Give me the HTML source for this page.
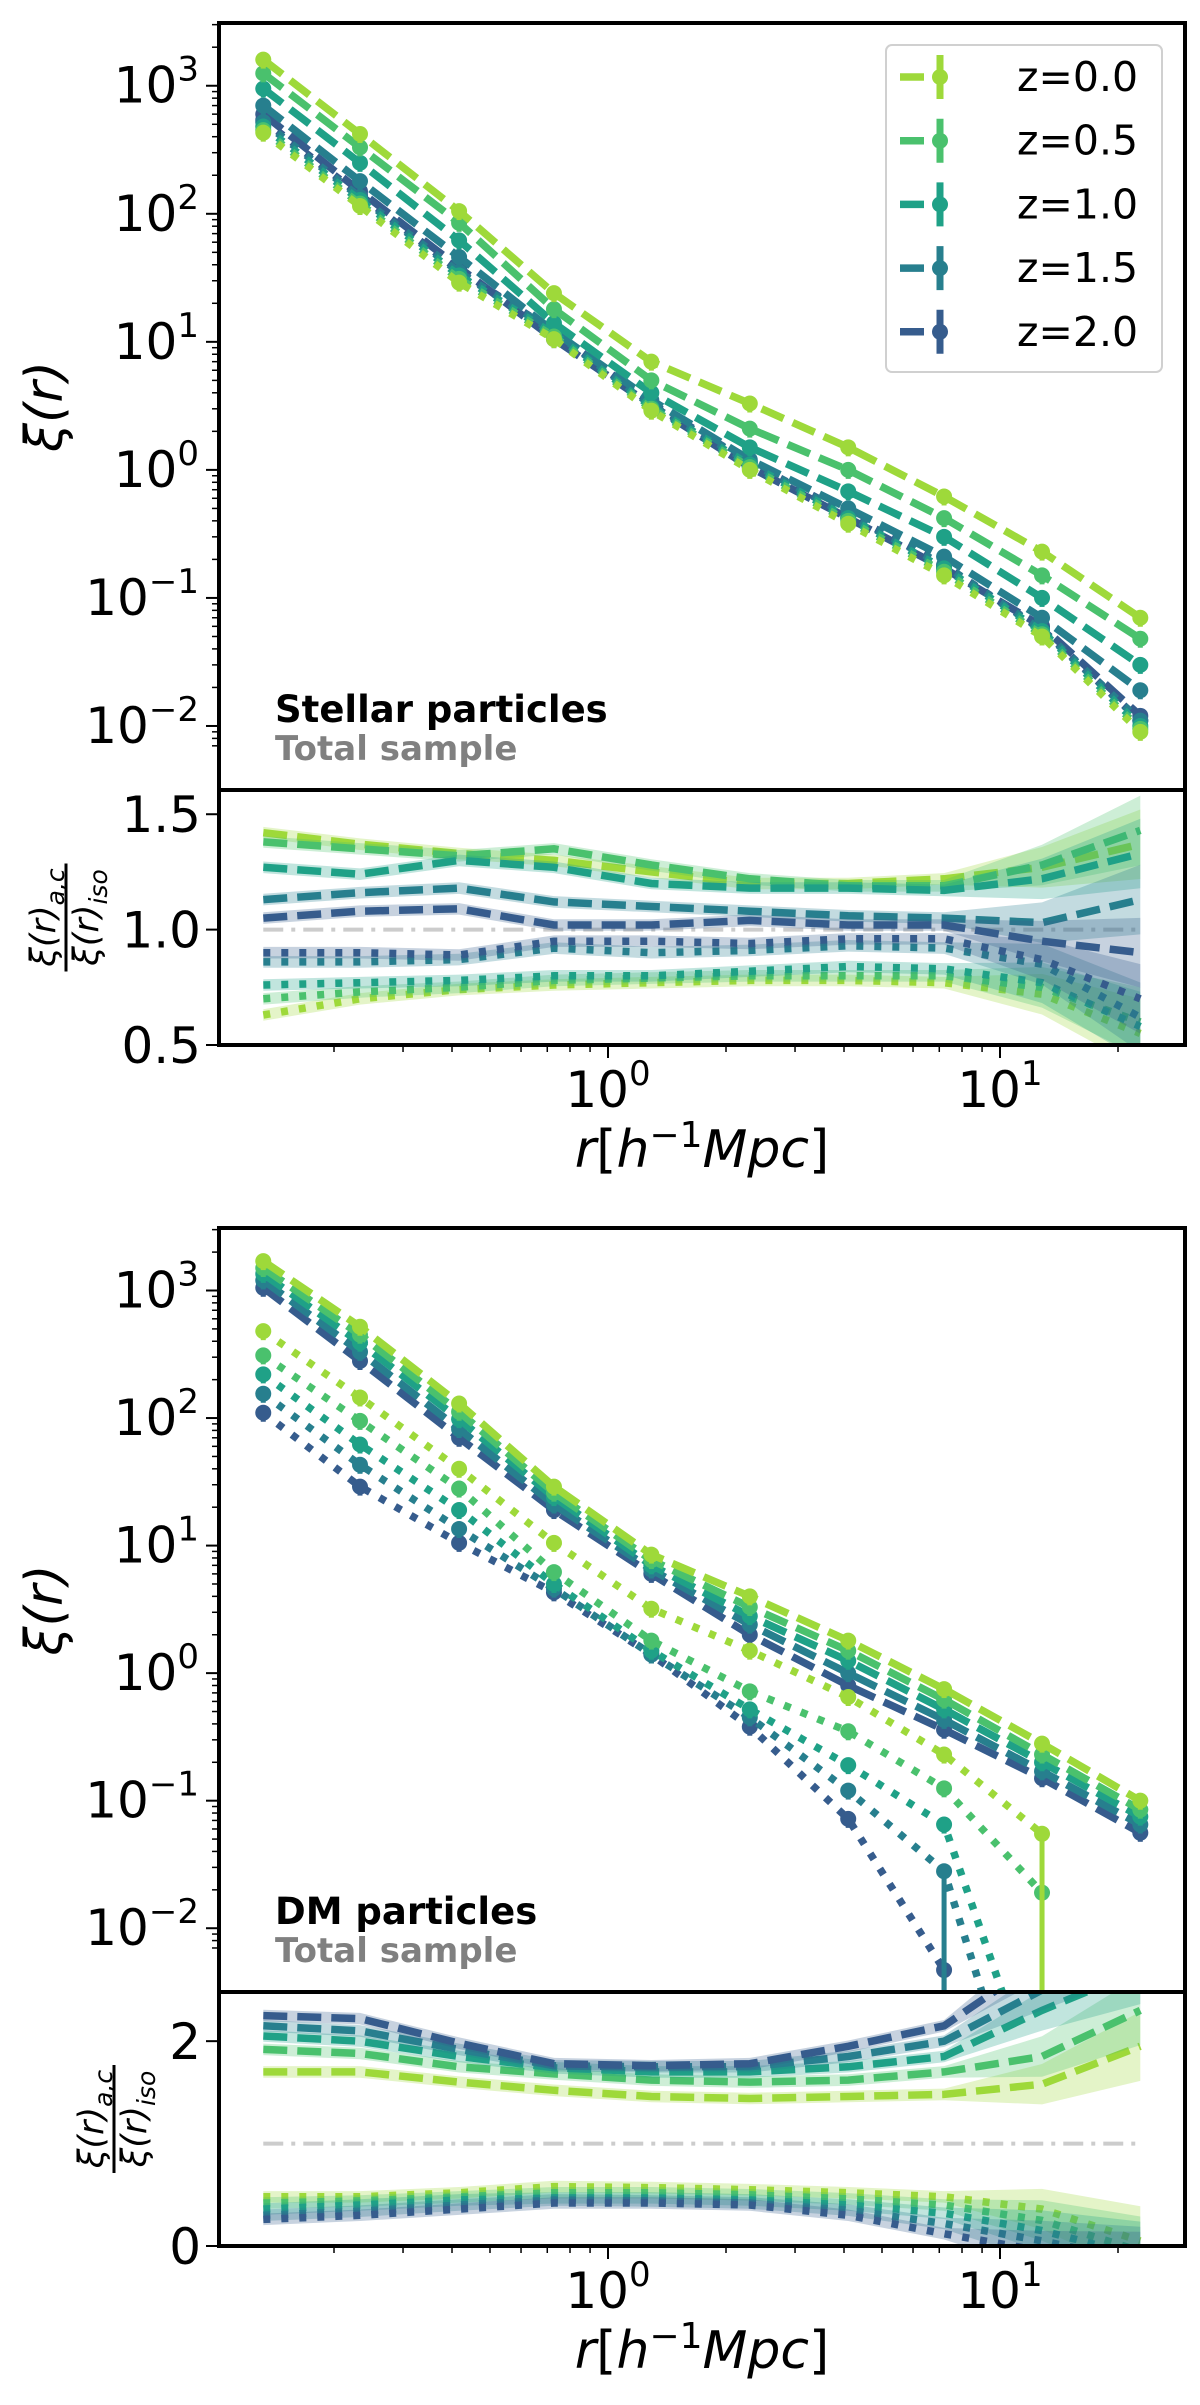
<!DOCTYPE html>
<html><head><meta charset="utf-8"><style>
html,body{margin:0;padding:0;background:#fff;}
svg{display:block;font-family:"DejaVu Sans","Liberation Sans",sans-serif;}
</style></head><body>
<svg id="fig" width="1200" height="2405" viewBox="0 0 1200 2405" xmlns="http://www.w3.org/2000/svg"></svg>
<script>
// ---------- data ----------
const rVals = [0.132,0.233,0.417,0.728,1.29,2.3,4.1,7.2,12.8,22.8];
const zLabels = ["z=0.0","z=0.5","z=1.0","z=1.5","z=2.0"];
const colors = ["#9ed93a","#4ac16d","#1fa187","#277f8e","#365c8d"];
// Stellar particles xi(r): dashed (a) and dotted (c)
const starA0=[1600,420,105,24,7.0,3.3,1.5,0.62,0.23,0.07];
const starA1=[1250,330,85,18,5.0,2.1,1.0,0.42,0.15,0.048];
const starA2=[950,250,62,14,4.0,1.5,0.68,0.30,0.10,0.030];
const starA3=[700,180,46,12,3.5,1.2,0.50,0.21,0.07,0.019];
const starA4=[600,150,38,10.5,3.2,1.05,0.42,0.17,0.06,0.012];
const starC0=[430,115,29,10.5,2.9,1.0,0.38,0.15,0.050,0.009];
const starC1=[450,120,31,11,3.0,1.05,0.40,0.16,0.052,0.0095];
const starC2=[480,128,33,11.5,3.1,1.1,0.42,0.17,0.055,0.010];
const starC3=[520,135,35,12,3.2,1.15,0.44,0.18,0.056,0.011];
const starC4=[540,140,36,12,3.3,1.15,0.45,0.18,0.057,0.011];
// Stellar ratio panel
const starRA0=[1.42,1.37,1.33,1.30,1.25,1.20,1.20,1.22,1.27,1.37];
const starRA1=[1.38,1.35,1.32,1.35,1.28,1.22,1.19,1.19,1.28,1.43];
const starRA2=[1.27,1.24,1.30,1.27,1.20,1.18,1.18,1.17,1.22,1.33];
const starRA3=[1.13,1.16,1.18,1.12,1.10,1.08,1.06,1.05,1.03,1.13];
const starRA4=[1.05,1.08,1.09,1.02,1.02,1.04,1.02,1.02,0.95,0.90];
const starRC0=[0.63,0.70,0.74,0.76,0.77,0.78,0.78,0.77,0.72,0.55];
const starRC1=[0.70,0.73,0.75,0.78,0.79,0.80,0.80,0.80,0.75,0.60];
const starRC2=[0.76,0.77,0.78,0.80,0.80,0.82,0.84,0.83,0.77,0.58];
const starRC3=[0.86,0.86,0.87,0.92,0.90,0.91,0.93,0.92,0.85,0.62];
const starRC4=[0.90,0.90,0.89,0.95,0.95,0.94,0.96,0.96,0.87,0.70];
// DM particles xi(r) (null = not plotted / negative)
const dmA0=[1700,520,130,29,8.5,4.0,1.8,0.75,0.28,0.10];
const dmA1=[1500,450,112,26,7.7,3.3,1.5,0.62,0.23,0.085];
const dmA2=[1350,390,98,24,7.0,2.8,1.25,0.52,0.20,0.075];
const dmA3=[1200,330,82,21,6.5,2.4,1.0,0.43,0.17,0.065];
const dmA4=[1050,280,70,19,6.0,2.0,0.80,0.36,0.15,0.056];
const dmC0=[480,145,40,10.5,3.2,1.5,0.65,0.23,0.055,null];
const dmC1=[310,95,28,6.2,1.8,0.72,0.35,0.125,0.019,null];
const dmC2=[220,62,19,5.0,1.5,0.52,0.19,0.065,0.0004,null];
const dmC3=[155,43,13.5,4.6,1.4,0.45,0.12,0.028,0.0001,null];
const dmC4=[110,29,10.5,4.3,1.4,0.38,0.072,0.0047,null,null];
// DM points whose lower error bar runs off the axis: [series, index]
const dmLongErr=[[0,8],[1,8],[3,7],[4,7]];
// DM ratio panel
const dmRA0=[1.70,1.70,1.60,1.52,1.46,1.44,1.46,1.48,1.58,1.95];
const dmRA1=[1.92,1.88,1.75,1.68,1.62,1.60,1.62,1.70,1.85,2.30];
const dmRA2=[2.05,2.00,1.85,1.74,1.70,1.70,1.75,1.85,2.30,2.70];
const dmRA3=[2.15,2.10,1.92,1.76,1.75,1.75,1.85,2.00,2.50,3.00];
const dmRA4=[2.25,2.22,1.98,1.78,1.76,1.78,1.95,2.15,2.80,3.50];
const dmRC0=[0.48,0.48,0.52,0.58,0.57,0.55,0.52,0.48,0.36,0.05];
const dmRC1=[0.42,0.44,0.48,0.52,0.52,0.50,0.46,0.40,0.25,-0.05];
const dmRC2=[0.36,0.40,0.45,0.47,0.47,0.45,0.40,0.32,0.15,-0.10];
const dmRC3=[0.30,0.34,0.40,0.45,0.44,0.42,0.35,0.22,0.05,-0.15];
const dmRC4=[0.26,0.30,0.36,0.42,0.42,0.40,0.30,0.12,-0.05,-0.20];
const yTickExp=[-2,-1,0,1,2,3];
const starRatioTicks=["0.5","1.0","1.5"];
const dmRatioTicks=["0","2"];

const starA=[starA0,starA1,starA2,starA3,starA4], starC=[starC0,starC1,starC2,starC3,starC4];
const starRA=[starRA0,starRA1,starRA2,starRA3,starRA4], starRC=[starRC0,starRC1,starRC2,starRC3,starRC4];
const dmA=[dmA0,dmA1,dmA2,dmA3,dmA4], dmC=[dmC0,dmC1,dmC2,dmC3,dmC4];
const dmRA=[dmRA0,dmRA1,dmRA2,dmRA3,dmRA4], dmRC=[dmRC0,dmRC1,dmRC2,dmRC3,dmRC4];

// ---------- helpers ----------
const NS="http://www.w3.org/2000/svg";
const svg=document.getElementById('fig');
function mk(tag,attrs,parent){const e=document.createElementNS(NS,tag);for(const k in attrs)e.setAttribute(k,attrs[k]);(parent||svg).appendChild(e);return e;}
const XL=219, XR=1185;
const LW=7.5;
function xs(r){return 608+392*Math.log10(r);}
let clipId=0;

function logPanel(top,bot,A,C,title,prefix,longErr){
  const yTop=3.49, yBot=-2.5;
  const ys=v=>top+(yTop-Math.log10(v))/(yTop-yBot)*(bot-top);
  const g=mk('g',{});
  
  
  const cid='c'+(clipId++);
  const cp=mk('clipPath',{id:cid},g);mk('rect',{x:XL,y:top,width:XR-XL,height:bot-top},cp);
  const dg=mk('g',{'clip-path':`url(#${cid})`},g);
  for(let s=4;s>=0;s--){
    [[C[s],'7 11','dotted'],[A[s],'24 10','dashed']].forEach(([arr,da,kind])=>{
      const pts=arr.map((v,i)=>v==null?null:`${xs(rVals[i]).toFixed(1)},${ys(v).toFixed(1)}`).filter(p=>p).join(' ');
      const pl=mk('polyline',{points:pts,fill:'none',stroke:colors[s],'stroke-width':LW,'stroke-dasharray':da},dg);
      
      
      arr.forEach((v,i)=>{
        if(v==null)return;
        const cx=xs(rVals[i]),cy=ys(v);
        if(cy>bot+20)return;
        const long=kind==='dotted'&&longErr.some(([a,b])=>a===s&&b===i);
        const eb=mk('line',{x1:cx,x2:cx,y1:cy-7,y2:long?bot+10:cy+9,stroke:colors[s],'stroke-width':5},dg);
        
        
        const m=mk('circle',{cx:cx,cy:cy,r:8,fill:colors[s]},dg);
        
        
      });
    });
  }
  yTickExp.forEach(e=>{
    const y=ys(Math.pow(10,e));
    mk('line',{x1:XL-13,x2:XL,y1:y,y2:y,stroke:'#000','stroke-width':2},g);
    for(let k=2;k<=9;k++){const ym=ys(k*Math.pow(10,e));if(ym>top&&ym<bot)mk('line',{x1:XL-7,x2:XL,y1:ym,y2:ym,stroke:'#000','stroke-width':1.5},g);}
    const t=mk('text',{x:XL-20,y:y+17,'text-anchor':'end','font-size':50},g);
    
    
    t.innerHTML=`10<tspan dy="-22" font-size="34">${e<0?'\u2212'+(-e):e}</tspan>`;
  });
  [7,8,9].forEach(k=>{const ym=ys(k*1e-3);if(ym>top&&ym<bot)mk('line',{x1:XL-7,x2:XL,y1:ym,y2:ym,stroke:'#000','stroke-width':1.5},g);});
  const yl=mk('text',{x:0,y:0,'font-size':52,'font-style':'italic','text-anchor':'middle',transform:`translate(62,${(top+bot)/2}) rotate(-90)`},g);
  
  
  yl.textContent='\u03BE(r)';
  const t1=mk('text',{x:275,y:bot-68,'font-size':37,'font-weight':'bold',fill:'#000'},g);
  
  
  t1.textContent=title;
  const t2=mk('text',{x:275,y:bot-30,'font-size':34,'font-weight':'bold',fill:'#808080'},g);
  
  
  t2.textContent='Total sample';
  const fr=mk('rect',{x:XL,y:top,width:XR-XL,height:bot-top,fill:'none',stroke:'#000','stroke-width':4},g);
  
  
}

function ratioPanel(top,bot,ymin,ymax,RA,RC,ticks,prefix){
  const ys=v=>bot-(v-ymin)/(ymax-ymin)*(bot-top);
  const g=mk('g',{});
  
  
  const cid='c'+(clipId++);
  const cp=mk('clipPath',{id:cid},g);mk('rect',{x:XL,y:top,width:XR-XL,height:bot-top},cp);
  const dg=mk('g',{'clip-path':`url(#${cid})`},g);
  const ref=mk('line',{x1:xs(rVals[0]),x2:xs(rVals[9]),y1:ys(1),y2:ys(1),stroke:'#cccccc','stroke-width':4,'stroke-dasharray':'20 8 4 8'},dg);
  
  
  for(let s=0;s<5;s++){
    [[RC[s],'7 11','dotted'],[RA[s],'24 10','dashed']].forEach(([arr,da,kind])=>{
      const w=arr.map((v,i)=>0.025*(ymax-ymin)/1.1*(1+(i>=8?(i-7)*2.5:0)));
      const up=arr.map((v,i)=>`${xs(rVals[i]).toFixed(1)},${ys(v+w[i]).toFixed(1)}`);
      const dn=arr.map((v,i)=>`${xs(rVals[i]).toFixed(1)},${ys(v-w[i]).toFixed(1)}`).reverse();
      const band=mk('polygon',{points:up.concat(dn).join(' '),fill:colors[s],'fill-opacity':0.28},dg);
      
      
      const pts=arr.map((v,i)=>`${xs(rVals[i]).toFixed(1)},${ys(v).toFixed(1)}`).join(' ');
      const pl=mk('polyline',{points:pts,fill:'none',stroke:colors[s],'stroke-width':LW,'stroke-dasharray':da},dg);
      
      
    });
  }
  ticks.forEach(t=>{
    const y=ys(parseFloat(t));
    mk('line',{x1:XL-13,x2:XL,y1:y,y2:y,stroke:'#000','stroke-width':2},g);
    const tx=mk('text',{x:XL-18,y:y+18,'text-anchor':'end','font-size':50},g);
    
    
    tx.textContent=t;
  });
  [[0.1,-1],[1,0],[10,1]].forEach(([b,e])=>{
    for(let k=1;k<=9;k++){const v=b*k;const x=xs(v);if(x<XL||x>XR)continue;
      const major=k===1;
      mk('line',{x1:x,x2:x,y1:bot,y2:bot+(major?13:7),stroke:'#000','stroke-width':major?2:1.5},g);
      if(major){const tx=mk('text',{x:x,y:bot+62,'text-anchor':'middle','font-size':50},g);
        
        
        tx.innerHTML=`10<tspan dy="-22" font-size="34">${e}</tspan>`;}
    }
  });
  const xl=mk('text',{x:(XL+XR)/2,y:bot+122,'text-anchor':'middle','font-size':52,'font-style':'italic'},g);
  
  
  xl.innerHTML='r<tspan font-style="normal">[</tspan>h<tspan dy="-20" font-size="36" font-style="normal">\u22121</tspan><tspan dy="20">Mpc</tspan><tspan font-style="normal">]</tspan>';
  const cx=prefix==='stellar'?66:114, cy=(top+bot)/2;
  const lab=mk('g',{transform:`translate(${cx},${cy}) rotate(-90)`},g);
  
  
  const n=mk('text',{x:0,y:-11,'text-anchor':'middle','font-size':35,'font-style':'italic'},lab);
  n.innerHTML='\u03BE(r)<tspan dy="9" font-size="25">a,c</tspan>';
  mk('line',{x1:-54,x2:54,y1:0,y2:0,stroke:'#000','stroke-width':3},lab);
  const d=mk('text',{x:0,y:32,'text-anchor':'middle','font-size':35,'font-style':'italic'},lab);
  d.innerHTML='\u03BE(r)<tspan dy="9" font-size="25">iso</tspan>';
  const fr=mk('rect',{x:XL,y:top,width:XR-XL,height:bot-top,fill:'none',stroke:'#000','stroke-width':4},g);
  
  
}

logPanel(23,790,starA,starC,'Stellar particles','stellar',[]);
ratioPanel(790,1045,0.5,1.605,starRA,starRC,starRatioTicks,'stellar');
logPanel(1228,1992,dmA,dmC,'DM particles','dm',dmLongErr);
ratioPanel(1992,2246,0,2.48,dmRA,dmRC,dmRatioTicks,'dm');

// legend
const lg=mk('g',{});


mk('rect',{x:886,y:45,width:276,height:327,rx:6,fill:'#fff','fill-opacity':0.8,stroke:'#d0d0d0','stroke-width':2},lg);
zLabels.forEach((z,i)=>{
  const y=77+i*63.7;
  const e=mk('g',{},lg);
  
  
  mk('line',{x1:900,x2:985,y1:y,y2:y,stroke:colors[i],'stroke-width':LW,'stroke-dasharray':'24 14 5 60'},e);
  mk('line',{x1:940,x2:940,y1:y-22,y2:y+22,stroke:colors[i],'stroke-width':7},e);
  mk('circle',{cx:940,cy:y,r:8,fill:colors[i]},e);
  const t=mk('text',{x:1017,y:y+14,'font-size':41},e);
  t.textContent=z;
});
</script>
</body></html>
